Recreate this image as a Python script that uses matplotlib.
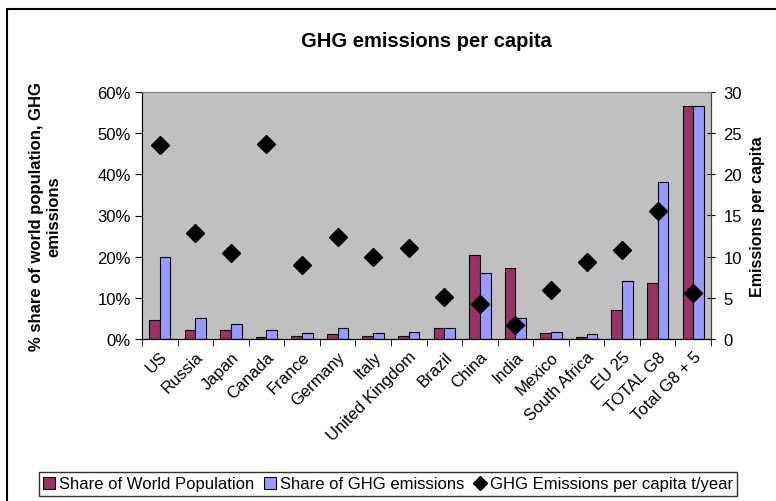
import matplotlib.pyplot as plt
import numpy as np
from matplotlib.patches import Rectangle

plt.rcParams['font.family'] = ['Liberation Sans', 'DejaVu Sans']

countries = ["US", "Russia", "Japan", "Canada", "France", "Germany", "Italy",
             "United Kingdom", "Brazil", "China", "India", "Mexico",
             "South Africa", "EU 25", "TOTAL G8", "Total G8 + 5"]
# shares in %
pop_share = [4.6, 2.1, 2.1, 0.5, 0.8, 1.1, 0.8, 0.8, 2.7, 20.4, 17.3, 1.5,
             0.5, 7.0, 13.6, 56.7]
ghg_share = [19.8, 5.2, 3.6, 2.1, 1.5, 2.7, 1.5, 1.8, 2.7, 16.0, 5.2, 1.8,
             1.1, 14.2, 38.2, 56.7]
# t/year per person
per_capita = [23.6, 12.9, 10.5, 23.7, 8.95, 12.4, 9.9, 11.0, 5.1, 4.3, 1.7,
              6.0, 9.4, 10.85, 15.5, 5.55]

fig = plt.figure(figsize=(7.76, 5.02), dpi=100)
ax = fig.add_axes([142/776, 1-340/502, 569/776, 247/502])
ax.set_facecolor('#c0c0c0')

x = np.arange(len(countries))
w = 0.3
ax.bar(x - w/2, pop_share, w, color='#993366', edgecolor='black', linewidth=0.8,
       label='Share of World Population', zorder=2)
ax.bar(x + w/2, ghg_share, w, color='#9999ff', edgecolor='black', linewidth=0.8,
       label='Share of GHG emissions', zorder=2)

ax.set_xlim(-0.5, len(countries) - 0.5)
ax.set_ylim(0, 60)
ax.set_yticks(range(0, 61, 10))
ax.set_yticklabels([f"{v}%" for v in range(0, 61, 10)], fontsize=12)
ax.set_xticks(x)
ax.set_xticklabels(countries, rotation=45, ha='right', rotation_mode='anchor',
                   fontsize=12)
ax.tick_params(axis='x', length=0, pad=7)
ax.set_xticks(np.arange(-0.5, len(countries), 1), minor=True)
ax.tick_params(axis='x', which='minor', length=5, direction='out')
ax.tick_params(axis='y', length=5, direction='out', pad=3)
ax.set_ylabel('% share of world population, GHG\nemissions', fontsize=12,
              fontweight='bold', labelpad=26)

for s in ['top', 'right']:
    ax.spines[s].set_color('#808080')
ax.spines['left'].set_color('black')
ax.spines['bottom'].set_color('black')

ax2 = ax.twinx()
ax2.plot(x, per_capita, linestyle='none', marker='D', markersize=9.5,
         color='black', label='GHG Emissions per capita t/year', zorder=3)
ax2.set_ylim(0, 30)
ax2.set_yticks(range(0, 31, 5))
ax2.tick_params(axis='y', length=6, direction='inout', labelsize=12, pad=6)
ax2.set_ylabel('Emissions per capita', fontsize=11.5, fontweight='bold',
               labelpad=6)
ax2.spines['right'].set_color('#404040')
ax2.spines['top'].set_color('#808080')

ax.set_title('GHG emissions per capita', fontsize=14.5, fontweight='bold', pad=33)

h1, l1 = ax.get_legend_handles_labels()
h2, l2 = ax2.get_legend_handles_labels()
fig.legend(h1 + h2, l1 + l2, loc='center', bbox_to_anchor=(0.5, 1-485/502),
           ncol=3, fontsize=12, frameon=True, fancybox=False, edgecolor='black',
           handlelength=0.7, handletextpad=0.25, columnspacing=0.6,
           borderpad=0.25, markerscale=0.7)

# outer chart frame
fig.patches.append(Rectangle((7/776, -0.05), 1.1, 1.05 - 10/502,
                             transform=fig.transFigure, fill=False,
                             edgecolor='black', linewidth=1.5))

plt.savefig("out.png")
